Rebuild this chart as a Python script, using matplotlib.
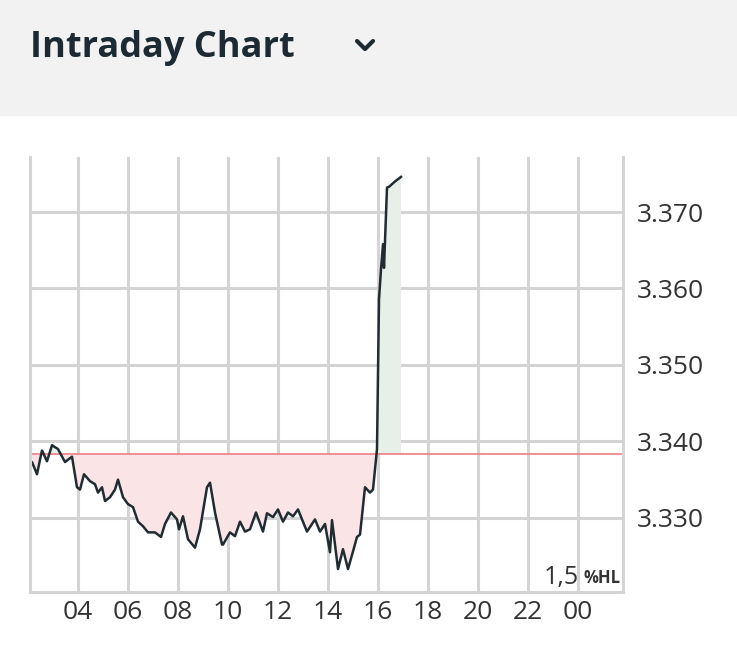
import matplotlib
matplotlib.use("Agg")
import matplotlib.pyplot as plt
import numpy as np

plt.rcParams['font.family'] = ['Open Sans', 'DejaVu Sans']

hours = [2.04,2.16,2.36,2.48,2.56,2.76,2.96,3.20,3.48,3.76,3.96,4.08,4.24,4.48,4.68,4.80,4.96,5.08,5.28,5.48,5.60,5.80,6.00,6.20,6.40,6.60,6.80,7.08,7.32,7.48,7.72,7.96,8.04,8.20,8.40,8.68,8.88,9.16,9.28,9.48,9.76,
         9.80,10.08,10.28,10.48,10.68,10.88,11.12,11.40,11.56,11.80,12.00,12.20,12.40,12.60,12.80,13.16,13.48,13.68,13.88,14.08,14.16,14.40,14.60,14.80,15.00,15.16,15.28,15.48,15.68,15.80,
         15.96,16.04,16.12,16.20,16.24,16.36,16.44,16.68,16.92]
prices = [3.3367,3.3373,3.3357,3.3376,3.3388,3.3374,3.3395,3.3390,3.3373,3.3380,3.3340,3.3337,3.3357,3.3348,3.3344,3.3333,3.3340,3.3322,3.3327,3.3337,3.3350,3.3327,3.3318,3.3314,3.3295,3.3289,3.3281,3.3281,3.3275,3.3292,3.3307,3.3298,3.3285,3.3302,3.3272,3.3261,3.3285,3.3340,3.3346,3.3307,3.3265,
          3.3265,3.3281,3.3276,3.3295,3.3282,3.3285,3.3307,3.3282,3.3306,3.3301,3.3311,3.3295,3.3307,3.3302,3.3311,3.3282,3.3298,3.3282,3.3292,3.3255,3.3297,3.3233,3.3259,3.3233,3.3256,3.3275,3.3278,3.3340,3.3333,3.3337,
          3.3390,3.3586,3.3625,3.3658,3.3627,3.3732,3.3733,3.3740,3.3746]
ref_price = 3.3383
xtick_vals = [4,6,8,10,12,14,16,18,20,22,24]
xtick_labels = ["04","06","08","10","12","14","16","18","20","22","00"]
ytick_vals = [3.330,3.340,3.350,3.360,3.370]

h = np.array(hours); p = np.array(prices)

fig = plt.figure(figsize=(7.37,6.52), dpi=100)
fig.patches.append(plt.Rectangle((0,1-115/652),1,115/652,transform=fig.transFigure,color='#f2f2f2',zorder=0))
fig.text(30/737, 1-48/652, "Intraday Chart", fontsize=26, fontweight='bold', color='#1b2a33', va='center', ha='left')
fig.lines.append(plt.Line2D([357/737,365/737,373/737],[1-41/652,1-49/652,1-41/652],transform=fig.transFigure,color='#1b2a33',lw=3,solid_capstyle='round'))

ax = fig.add_axes([30/737, 1-592/652, 593/737, 435/652])
ax.set_xlim(2.08, 25.8)
ax.set_ylim(3.3203, 3.3772)
ax.grid(True, color='#d4d4d4', lw=2.2)
ax.set_axisbelow(True)
ax.set_xticks(xtick_vals); ax.set_xticklabels(xtick_labels)
ax.set_yticks(ytick_vals); ax.set_yticklabels([f"{v:.3f}" for v in ytick_vals])
ax.yaxis.tick_right()
ax.tick_params(length=0, labelsize=19, colors='#333333', pad=10)
ax.tick_params(axis='x', pad=6)
ax.spines['top'].set_visible(False)
for s in ['left','right','bottom']:
    ax.spines[s].set_color('#d4d4d4'); ax.spines[s].set_linewidth(2.2)

ax.fill_between(h, p, ref_price, where=p<=ref_price, interpolate=True, color='#fbe4e6', lw=0)
ax.fill_between(h, p, ref_price, where=p>=ref_price, interpolate=True, color='#e6efe8', lw=0)
ax.axhline(ref_price, color='#f07c84', lw=1.2)
ax.plot(h, p, color='#1f2d33', lw=1.8)
ax.text(0.925, 0.005, "1,5", transform=ax.transAxes, ha='right', va='bottom', fontsize=18, color='#333333')
ax.text(0.995, 0.012, "%HL", transform=ax.transAxes, ha='right', va='bottom', fontsize=12, fontweight='bold', color='#333333')

fig.savefig("out.png", dpi=100, facecolor='white')
